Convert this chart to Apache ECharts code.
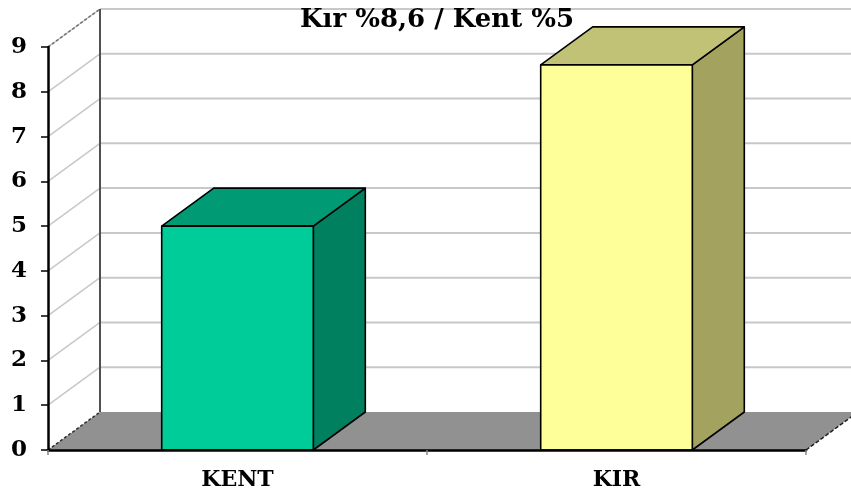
<!DOCTYPE html>
<html>
<head>
<meta charset="utf-8">
<script src="https://cdn.jsdelivr.net/npm/echarts@6/dist/echarts.min.js"></script>
<style>html,body{margin:0;padding:0;background:#fff}#c{width:851px;height:499px}</style>
</head>
<body>
<div id="c"></div>
<script>
var categories = ['KENT', 'KIR'];
var values = [5, 8.6];
var yTicks = [0, 1, 2, 3, 4, 5, 6, 7, 8, 9];
var chartTitle = 'Kır %8,6 / Kent %5';

var DX = 52, DY = 38;
var frontColors = ['#00CC99', '#FFFF99'];
var topColors = ['#009B75', '#C2C277'];
var sideColors = ['#00805F', '#A3A35F'];
var FONT = 'DejaVu Serif';

var chart = echarts.init(document.getElementById('c'), null, {renderer: 'canvas'});

function frameItem(params, api) {
  var cs = params.coordSys;
  var x0 = cs.x, x1 = cs.x + cs.width;
  var y0 = api.coord([0, 0])[1];
  var yTop = api.coord([0, 9])[1];
  var children = [];
  children.push({type: 'polygon', shape: {points: [[x0, y0], [x1, y0], [x1 + DX, y0 - DY], [x0 + DX, y0 - DY]]},
    style: {fill: '#919191', stroke: null}});
  for (var i = 1; i < yTicks.length; i++) {
    var y = api.coord([0, yTicks[i]])[1];
    children.push({type: 'line', shape: {x1: x0 + DX, y1: y - DY, x2: x1 + DX + 20, y2: y - DY},
      style: {stroke: '#c8c8c8', lineWidth: 2}});
    children.push({type: 'line', shape: {x1: x0, y1: y, x2: x0 + DX, y2: y - DY},
      style: {stroke: '#c8c8c8', lineWidth: 1.5}});
  }
  children.push({type: 'line', shape: {x1: x0 + DX, y1: yTop - DY, x2: x0 + DX, y2: y0 - DY},
    style: {stroke: '#505050', lineWidth: 2}});
  children.push({type: 'line', shape: {x1: x0, y1: yTop, x2: x0 + DX, y2: yTop - DY},
    style: {stroke: '#707070', lineWidth: 1.5, lineDash: [3, 2]}});
  children.push({type: 'line', shape: {x1: x0, y1: y0, x2: x0 + DX, y2: y0 - DY},
    style: {stroke: '#303030', lineWidth: 1.5, lineDash: [3, 2]}});
  children.push({type: 'line', shape: {x1: x1, y1: y0, x2: x1 + DX, y2: y0 - DY},
    style: {stroke: '#202020', lineWidth: 1.5, lineDash: [4, 2]}});
  return {type: 'group', children: children};
}

function barItem(params, api) {
  var idx = api.value(0);
  var v = api.value(1);
  var pTop = api.coord([idx, v]);
  var pBot = api.coord([idx, 0]);
  var bw = api.size([1, 0])[0] * 0.4;
  var xa = pTop[0] - bw / 2, xb = pTop[0] + bw / 2;
  var yt = pTop[1], yb = pBot[1];
  var k = params.dataIndex;
  var st = {stroke: '#000', lineWidth: 1.6, lineJoin: 'round'};
  return {type: 'group', children: [
    {type: 'polygon', shape: {points: [[xb, yt], [xb + DX, yt - DY], [xb + DX, yb - DY], [xb, yb]]},
      style: Object.assign({fill: sideColors[k]}, st)},
    {type: 'polygon', shape: {points: [[xa, yt], [xb, yt], [xb + DX, yt - DY], [xa + DX, yt - DY]]},
      style: Object.assign({fill: topColors[k]}, st)},
    {type: 'rect', shape: {x: xa, y: yt, width: bw, height: yb - yt},
      style: Object.assign({fill: frontColors[k]}, st)}
  ]};
}

var barData = values.map(function (v, i) { return [i, v]; });

chart.setOption({
  animation: false,
  backgroundColor: '#fff',
  title: {
    text: chartTitle, left: 295, top: 2, z: 20,
    textStyle: {fontFamily: FONT, fontWeight: 'bold', fontSize: 26, color: '#000'}
  },
  grid: {left: 48, right: 45, top: 47, bottom: 49},
  xAxis: {
    type: 'category', data: categories, boundaryGap: true,
    axisLine: {show: true, lineStyle: {color: '#000', width: 2.5}},
    axisTick: {show: true, length: 5, lineStyle: {color: '#888', width: 1.5}},
    axisLabel: {margin: 19, fontFamily: FONT, fontWeight: 'bold', fontSize: 22, color: '#000'},
    splitLine: {show: false}, z: 10
  },
  yAxis: {
    type: 'value', min: 0, max: 9, interval: 1,
    axisLine: {show: true, lineStyle: {color: '#000', width: 2.5}},
    axisTick: {show: true, length: 7, lineStyle: {color: '#000', width: 1.5}},
    axisLabel: {margin: 21, fontFamily: FONT, fontWeight: 'bold', fontSize: 23, color: '#000'},
    splitLine: {show: false}, z: 10
  },
  series: [
    {type: 'custom', renderItem: frameItem, data: [[0, 0]], clip: false, z: 1, silent: true},
    {type: 'custom', renderItem: barItem, data: barData, clip: false, z: 2,
      encode: {x: 0, y: 1}}
  ]
});
</script>
</body>
</html>
